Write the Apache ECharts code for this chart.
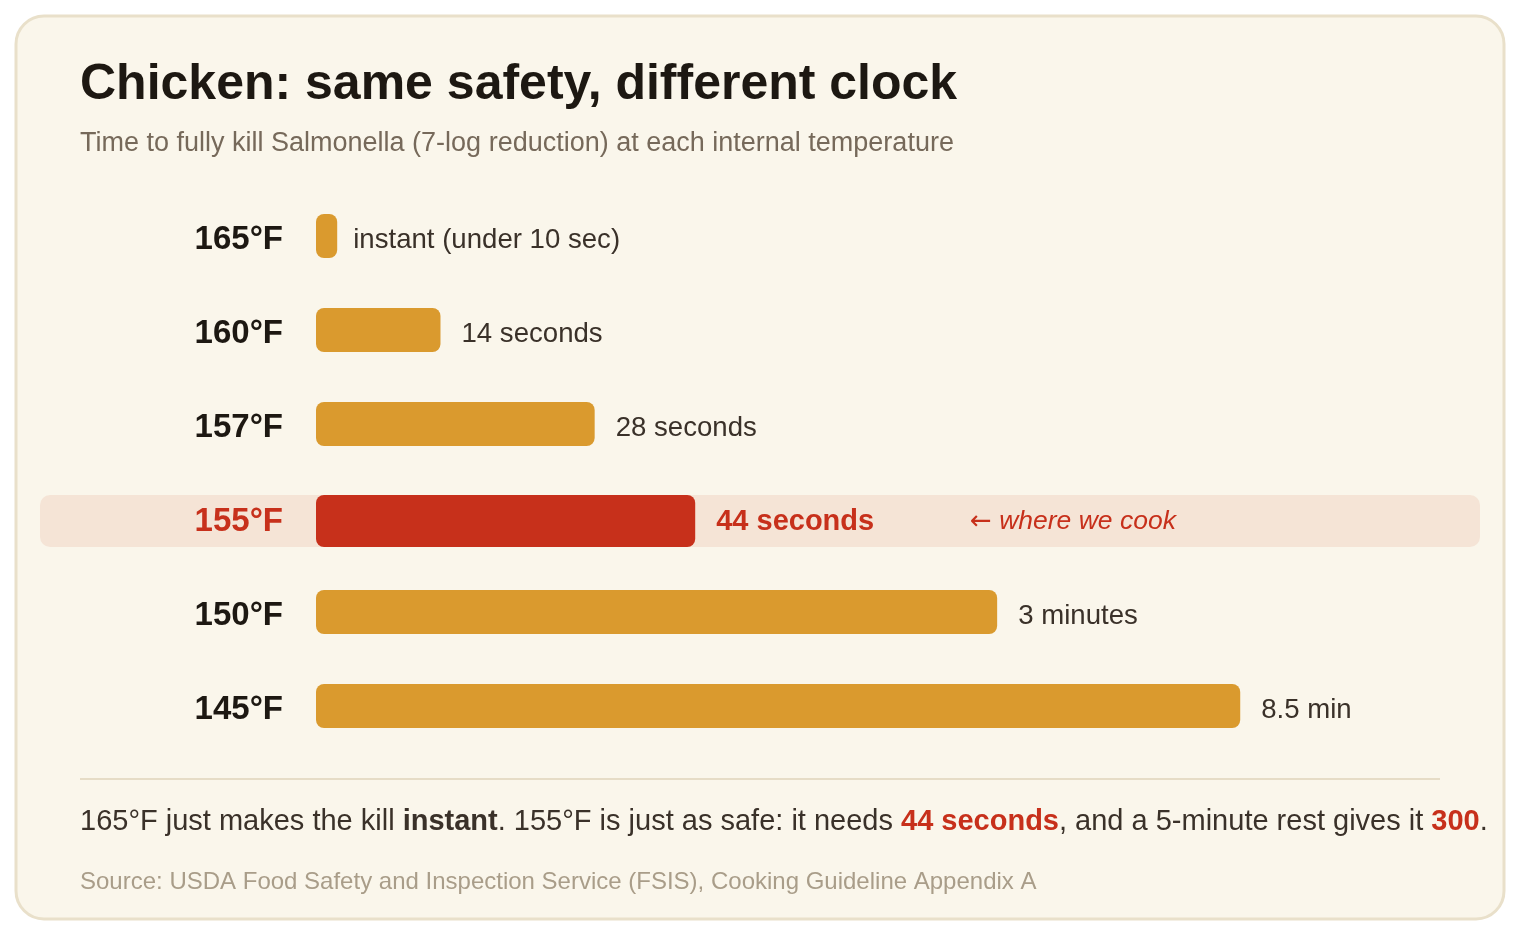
<!DOCTYPE html>
<html>
<head>
<meta charset="utf-8">
<script src="https://cdn.jsdelivr.net/npm/echarts@6/dist/echarts.min.js"></script>
<style>
  html, body { margin: 0; padding: 0; background: #ffffff; }
  #chart { width: 1520px; height: 936px; }
</style>
</head>
<body>
<div id="chart"></div>
<script>
// ---- data ----
const categories = ['165°F', '160°F', '157°F', '155°F', '150°F', '145°F'];
const killSeconds = [8.8, 14, 28, 44, 171, 510];
const valueLabels = ['instant (under 10 sec)', '14 seconds', '28 seconds', '44 seconds', '3 minutes', '8.5 min'];
const highlightIndex = 3;
const highlightArrow = '←';
const highlightNote = 'where we cook';
const titleText = 'Chicken: same safety, different clock';
const subtitleText = 'Time to fully kill Salmonella (7-log reduction) at each internal temperature';
const footerText = '165°F just makes the kill {b|instant}. 155°F is just as safe: it needs {r|44 seconds}, and a 5-minute rest gives it {r|300}.';
const sourceText = 'Source: USDA Food Safety and Inspection Service (FSIS), Cooking Guideline Appendix A';
const axisMin = 8;
const axisMax = 1000;

// ---- style ----
const FONT = '"Liberation Sans", Arial, Helvetica, sans-serif';
const C_BG = '#faf6eb', C_BORDER = '#e9e0ca', C_BAR = '#da9a2e', C_RED = '#c7301b',
      C_BAND = '#f5e4d6', C_DARK = '#1d1812', C_TEXT = '#3a3129', C_SUB = '#76695a', C_SRC = '#a99d89', C_RULE = '#e6dcc6';

const chart = echarts.init(document.getElementById('chart'), null, { renderer: 'canvas' });

const option = {
  animation: false,
  backgroundColor: '#ffffff',
  grid: { left: 316, right: 130, top: 189, bottom: 936 - 753 },
  xAxis: {
    type: 'log', min: axisMin, max: axisMax, logBase: 10,
    show: false
  },
  yAxis: {
    type: 'category', data: categories, inverse: true, z: 10,
    axisLine: { show: false }, axisTick: { show: false }, splitLine: { show: false },
    axisLabel: {
      margin: 33, padding: [8, 0, 0, 0],
      fontFamily: FONT, fontSize: 33, fontWeight: 'bold', color: C_DARK,
      formatter: function (v, i) { return i === highlightIndex ? '{h|' + v + '}' : v; },
      rich: { h: { fontFamily: FONT, fontSize: 33, fontWeight: 'bold', color: C_RED } }
    }
  },
  graphic: [
    { type: 'rect', z: -10, silent: true,
      shape: { x: 16, y: 16, width: 1488, height: 903, r: 28 },
      style: { fill: C_BG, stroke: C_BORDER, lineWidth: 3 } },
    { type: 'text', z: 5, x: 80, y: 85,
      style: { text: titleText, fontFamily: FONT, fontSize: 50, fontWeight: 'bold', fill: C_DARK, verticalAlign: 'middle' } },
    { type: 'text', z: 5, x: 80, y: 144,
      style: { text: subtitleText, fontFamily: FONT, fontSize: 27, fill: C_SUB, verticalAlign: 'middle' } },
    { type: 'line', z: 5, shape: { x1: 80, y1: 779, x2: 1440, y2: 779 },
      style: { stroke: C_RULE, lineWidth: 2 } },
    { type: 'text', z: 5, x: 80, y: 822,
      style: { text: footerText, fontFamily: FONT, fontSize: 29, fill: C_TEXT, verticalAlign: 'middle',
        rich: {
          b: { fontFamily: FONT, fontSize: 29, fontWeight: 'bold', fill: C_TEXT, color: C_TEXT },
          r: { fontFamily: FONT, fontSize: 29, fontWeight: 'bold', fill: C_RED, color: C_RED }
        } } },
    { type: 'text', z: 5, x: 80, y: 882,
      style: { text: sourceText, fontFamily: FONT, fontSize: 24, fill: C_SRC, verticalAlign: 'middle' } }
  ],
  series: [{
    type: 'custom',
    coordinateSystem: 'cartesian2d',
    encode: { x: 0, y: 1 },
    data: killSeconds.map(function (v, i) { return [v, i]; }),
    renderItem: function (params, api) {
      const idx = api.value(1);
      const val = api.value(0);
      const start = api.coord([axisMin, idx]);
      const end = api.coord([val, idx]);
      const hl = idx === highlightIndex;
      const h = hl ? 52 : 44;
      const w = end[0] - start[0];
      const cy = start[1] + (hl ? 3 : 0);
      const children = [];
      if (hl) {
        children.push({ type: 'rect', shape: { x: 40, y: cy - h / 2, width: 1440, height: h, r: 10 },
          style: { fill: C_BAND } });
      }
      children.push({ type: 'rect', shape: { x: start[0], y: cy - h / 2, width: w, height: h, r: Math.min(8, w / 2) },
        style: { fill: hl ? C_RED : C_BAR } });
      children.push({ type: 'text', x: end[0] + (idx === 0 ? 16 : 21), y: cy + (hl ? 1 : 4),
        style: { text: valueLabels[idx], fontFamily: FONT, fontSize: hl ? 29 : 27.6,
          fontWeight: hl ? 'bold' : 'normal', fill: hl ? C_RED : C_TEXT, verticalAlign: 'middle' } });
      if (hl) {
        children.push({ type: 'text', x: 970, y: cy + 1,
          style: { text: '{a|' + highlightArrow + '} ' + highlightNote, verticalAlign: 'middle',
            fontFamily: FONT, fontSize: 26.5, fontStyle: 'italic', fill: C_RED,
            rich: { a: { fontFamily: '"DejaVu Sans", sans-serif', fontSize: 26, fontStyle: 'normal', fill: C_RED, color: C_RED } } } });
      }
      return { type: 'group', children: children };
    }
  }]
};
chart.setOption(option);
</script>
</body>
</html>
